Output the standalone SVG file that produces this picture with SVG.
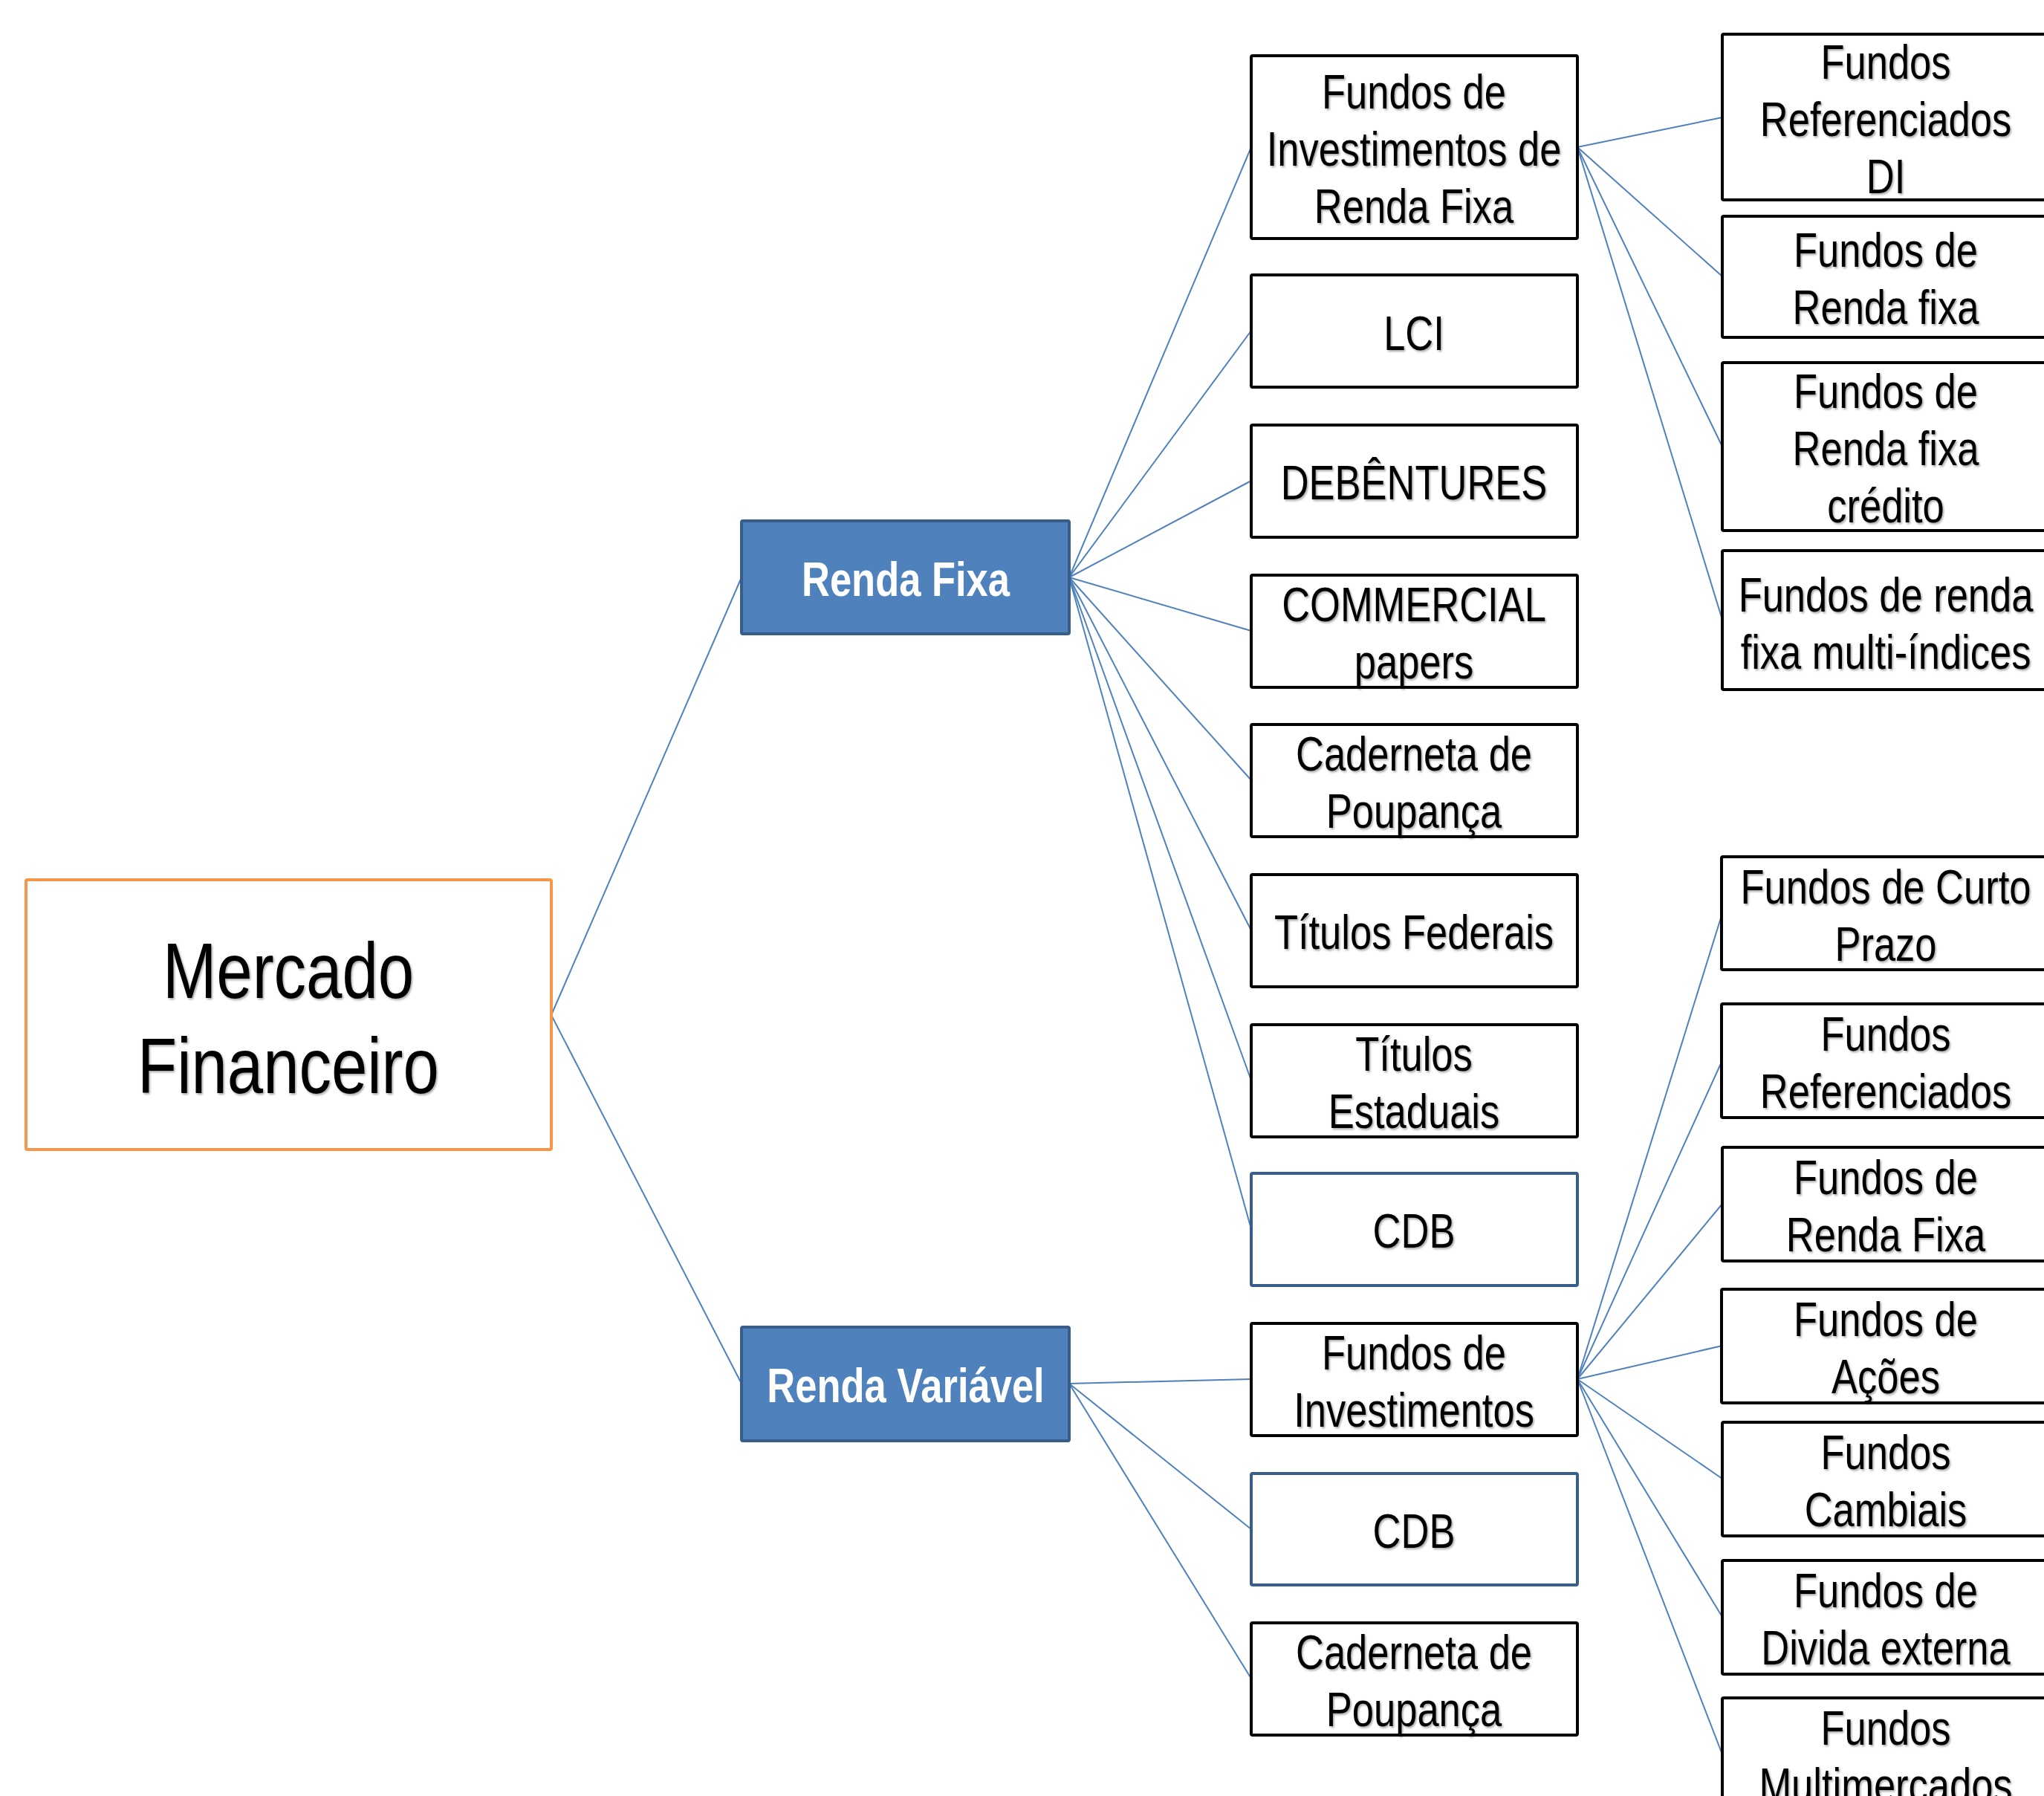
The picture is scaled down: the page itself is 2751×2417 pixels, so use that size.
<svg xmlns="http://www.w3.org/2000/svg" width="2751" height="2417" viewBox="0 0 2751 2417">
<defs>
<style>
.t{font-family:"Liberation Sans",Arial,sans-serif;font-size:64px;fill:#000;text-anchor:middle;filter:url(#sh)}
.big{font-size:106px}
.w{fill:#fff;font-weight:bold;filter:none}
.box{fill:#fff;stroke:#000;stroke-width:4}
.bbox{fill:#fff;stroke:#385D8A;stroke-width:4}
.rbox{fill:#4F81BD;stroke:#385D8A;stroke-width:4}
.obox{fill:#fff;stroke:#F79646;stroke-width:4}
.c line{stroke:#4F81BD;stroke-width:2}
</style>
<filter id="sh" x="-5%" y="-20%" width="110%" height="140%">
<feDropShadow dx="2" dy="2" stdDeviation="1.5" flood-color="#000" flood-opacity="0.35"/>
</filter>
</defs>
<rect width="2751" height="2417" fill="#fff"/>
<g id="connectors" class="c">
<line x1="742" y1="1366" x2="998" y2="777"/>
<line x1="742" y1="1366" x2="998" y2="1862"/>
<line x1="1439" y1="777" x2="1684" y2="198"/>
<line x1="1439" y1="777" x2="1684" y2="445"/>
<line x1="1439" y1="777" x2="1684" y2="647"/>
<line x1="1439" y1="777" x2="1684" y2="849"/>
<line x1="1439" y1="777" x2="1684" y2="1050"/>
<line x1="1439" y1="777" x2="1684" y2="1252"/>
<line x1="1439" y1="777" x2="1684" y2="1454"/>
<line x1="1439" y1="777" x2="1684" y2="1654"/>
<line x1="1439" y1="1862" x2="1684" y2="1856"/>
<line x1="1439" y1="1862" x2="1684" y2="2058"/>
<line x1="1439" y1="1862" x2="1684" y2="2259"/>
<line x1="2123" y1="198" x2="2318" y2="158"/>
<line x1="2123" y1="198" x2="2318" y2="372"/>
<line x1="2123" y1="198" x2="2318" y2="601"/>
<line x1="2123" y1="198" x2="2318" y2="834"/>
<line x1="2123" y1="1856" x2="2318" y2="1229"/>
<line x1="2123" y1="1856" x2="2318" y2="1427"/>
<line x1="2123" y1="1856" x2="2318" y2="1620"/>
<line x1="2123" y1="1856" x2="2318" y2="1811"/>
<line x1="2123" y1="1856" x2="2318" y2="1990"/>
<line x1="2123" y1="1856" x2="2318" y2="2176"/>
<line x1="2123" y1="1856" x2="2318" y2="2361"/>
</g>
<g id="mercado"><rect class="obox" x="35" y="1184" width="707" height="363" rx="2"/><text class="t big" transform="translate(388 1343) scale(0.82 1)">Mercado</text><text class="t big" transform="translate(388 1471) scale(0.82 1)">Financeiro</text></g>
<g id="renda-fixa"><rect class="rbox" x="998" y="701" width="441" height="152" rx="2"/><text class="t w" transform="translate(1219 802) scale(0.82 1)">Renda Fixa</text></g>
<g id="renda-variavel"><rect class="rbox" x="998" y="1786" width="441" height="153" rx="2"/><text class="t w" transform="translate(1219 1887) scale(0.82 1)">Renda Variável</text></g>
<g id="fi-renda-fixa"><rect class="box" x="1684" y="75" width="439" height="246" rx="2"/><text class="t" transform="translate(1903 146) scale(0.82 1)">Fundos de</text><text class="t" transform="translate(1903 223) scale(0.82 1)">Investimentos de</text><text class="t" transform="translate(1903 300) scale(0.82 1)">Renda Fixa</text></g>
<g id="lci"><rect class="box" x="1684" y="370" width="439" height="151" rx="2"/><text class="t" transform="translate(1903 471) scale(0.82 1)">LCI</text></g>
<g id="debentures"><rect class="box" x="1684" y="572" width="439" height="151" rx="2"/><text class="t" transform="translate(1903 672) scale(0.82 1)">DEBÊNTURES</text></g>
<g id="commercial"><rect class="box" x="1684" y="774" width="439" height="151" rx="2"/><text class="t" transform="translate(1903 836) scale(0.82 1)">COMMERCIAL</text><text class="t" transform="translate(1903 913) scale(0.82 1)">papers</text></g>
<g id="caderneta"><rect class="box" x="1684" y="975" width="439" height="151" rx="2"/><text class="t" transform="translate(1903 1037) scale(0.82 1)">Caderneta de</text><text class="t" transform="translate(1903 1114) scale(0.82 1)">Poupança</text></g>
<g id="titulos-federais"><rect class="box" x="1684" y="1177" width="439" height="151" rx="2"/><text class="t" transform="translate(1903 1277) scale(0.82 1)">Títulos Federais</text></g>
<g id="titulos-estaduais"><rect class="box" x="1684" y="1379" width="439" height="151" rx="2"/><text class="t" transform="translate(1903 1441) scale(0.82 1)">Títulos</text><text class="t" transform="translate(1903 1518) scale(0.82 1)">Estaduais</text></g>
<g id="cdb"><rect class="bbox" x="1684" y="1579" width="439" height="151" rx="2"/><text class="t" transform="translate(1903 1679) scale(0.82 1)">CDB</text></g>
<g id="fundos-investimentos"><rect class="box" x="1684" y="1781" width="439" height="151" rx="2"/><text class="t" transform="translate(1903 1843) scale(0.82 1)">Fundos de</text><text class="t" transform="translate(1903 1920) scale(0.82 1)">Investimentos</text></g>
<g id="cdb2"><rect class="bbox" x="1684" y="1983" width="439" height="150" rx="2"/><text class="t" transform="translate(1903 2083) scale(0.82 1)">CDB</text></g>
<g id="caderneta2"><rect class="box" x="1684" y="2184" width="439" height="151" rx="2"/><text class="t" transform="translate(1903 2246) scale(0.82 1)">Caderneta de</text><text class="t" transform="translate(1903 2323) scale(0.82 1)">Poupança</text></g>
<g id="ref-di"><rect class="box" x="2318" y="46" width="440" height="223" rx="2"/><text class="t" transform="translate(2538 106) scale(0.82 1)">Fundos</text><text class="t" transform="translate(2538 183) scale(0.82 1)">Referenciados</text><text class="t" transform="translate(2538 260) scale(0.82 1)">DI</text></g>
<g id="renda-fixa-1"><rect class="box" x="2318" y="291" width="440" height="163" rx="2"/><text class="t" transform="translate(2538 359) scale(0.82 1)">Fundos de</text><text class="t" transform="translate(2538 436) scale(0.82 1)">Renda fixa</text></g>
<g id="credito"><rect class="box" x="2318" y="488" width="440" height="226" rx="2"/><text class="t" transform="translate(2538 549) scale(0.82 1)">Fundos de</text><text class="t" transform="translate(2538 626) scale(0.82 1)">Renda fixa</text><text class="t" transform="translate(2538 703) scale(0.82 1)">crédito</text></g>
<g id="multi-indices"><rect class="box" x="2318" y="741" width="440" height="187" rx="2"/><text class="t" transform="translate(2538 823) scale(0.82 1)">Fundos de renda</text><text class="t" transform="translate(2538 900) scale(0.82 1)">fixa multi-índices</text></g>
<g id="curto-prazo"><rect class="box" x="2317" y="1153" width="441" height="152" rx="2"/><text class="t" transform="translate(2538 1216) scale(0.82 1)">Fundos de Curto</text><text class="t" transform="translate(2538 1293) scale(0.82 1)">Prazo</text></g>
<g id="referenciados"><rect class="box" x="2317" y="1351" width="441" height="153" rx="2"/><text class="t" transform="translate(2538 1414) scale(0.82 1)">Fundos</text><text class="t" transform="translate(2538 1491) scale(0.82 1)">Referenciados</text></g>
<g id="renda-fixa-2"><rect class="box" x="2318" y="1544" width="440" height="153" rx="2"/><text class="t" transform="translate(2538 1607) scale(0.82 1)">Fundos de</text><text class="t" transform="translate(2538 1684) scale(0.82 1)">Renda Fixa</text></g>
<g id="acoes"><rect class="box" x="2317" y="1735" width="441" height="153" rx="2"/><text class="t" transform="translate(2538 1798) scale(0.82 1)">Fundos de</text><text class="t" transform="translate(2538 1875) scale(0.82 1)">Ações</text></g>
<g id="cambiais"><rect class="box" x="2318" y="1914" width="440" height="153" rx="2"/><text class="t" transform="translate(2538 1977) scale(0.82 1)">Fundos</text><text class="t" transform="translate(2538 2054) scale(0.82 1)">Cambiais</text></g>
<g id="divida-externa"><rect class="box" x="2318" y="2100" width="440" height="153" rx="2"/><text class="t" transform="translate(2538 2163) scale(0.82 1)">Fundos de</text><text class="t" transform="translate(2538 2240) scale(0.82 1)">Divida externa</text></g>
<g id="multimercados"><rect class="box" x="2318" y="2285" width="440" height="153" rx="2"/><text class="t" transform="translate(2538 2348) scale(0.82 1)">Fundos</text><text class="t" transform="translate(2538 2425) scale(0.82 1)">Multimercados</text></g>
</svg>
